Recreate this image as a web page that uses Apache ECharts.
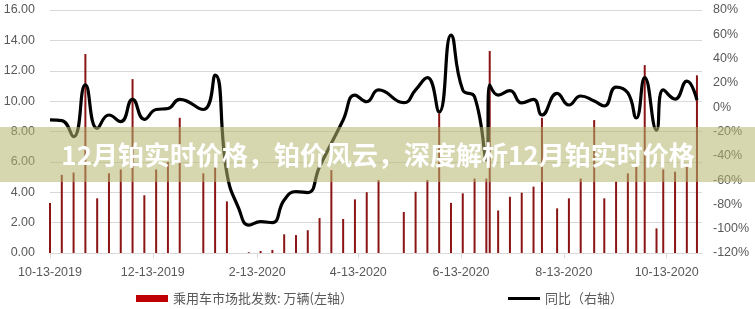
<!DOCTYPE html>
<html>
<head>
<meta charset="utf-8">
<script src="https://cdn.jsdelivr.net/npm/echarts@6/dist/echarts.min.js"></script>
<style>
html,body{margin:0;padding:0;background:#fff;}
#c{width:755px;height:309px;}
</style>
</head>
<body>
<div id="c"></div>
<script>
// ---- data ----
const dates = ['2019-10-13','2019-10-20','2019-10-27','2019-11-03','2019-11-10','2019-11-17','2019-11-24','2019-12-01','2019-12-08','2019-12-15','2019-12-22','2019-12-29','2020-01-12','2020-01-19','2020-01-26','2020-02-02','2020-02-08','2020-02-15','2020-02-22','2020-02-29','2020-03-07','2020-03-14','2020-03-21','2020-03-28','2020-04-04','2020-04-11','2020-04-18','2020-04-25','2020-05-10','2020-05-17','2020-05-24','2020-05-31','2020-06-07','2020-06-14','2020-06-21','2020-06-28','2020-06-30','2020-07-05','2020-07-12','2020-07-19','2020-07-26','2020-07-31','2020-08-09','2020-08-16','2020-08-23','2020-08-31','2020-09-06','2020-09-13','2020-09-20','2020-09-25','2020-09-30','2020-10-07','2020-10-11','2020-10-18','2020-10-25','2020-10-31'];
const sales = [3.3,5.15,5.3,13.1,3.6,5.25,5.5,11.45,3.8,5.5,6.0,8.9,5.25,5.68,3.4,0,0.05,0.13,0.2,1.23,1.18,1.5,2.3,5.46,2.24,3.53,4.0,4.8,2.7,4.03,4.8,9.2,3.3,3.93,4.9,4.9,13.3,2.8,3.7,3.97,4.37,8.9,2.94,3.6,4.9,8.75,3.6,4.7,5.24,5.68,12.37,1.62,5.5,5.35,5.68,11.7];
const yoy = [-10.5,-11,-24.3,18.3,-17.4,-6.4,-11.9,6.5,-10,-1.9,-1.1,6.5,-1.9,26.5,-54.4,-83.2,-97,-94.2,-95,-76.4,-69.5,-70.3,-49,-29.7,-10.5,10,4.5,14.2,3.7,14.2,24.4,-3.9,59.4,14.2,8.6,-43.5,18.3,10,13.6,3.5,6.5,-6.4,11.4,1.8,9.2,5.1,1,16.6,11.7,-8.9,24.4,-18.8,14.2,6.7,21.5,5.9];
const xTickDates = ['2019-10-13','2019-12-13','2020-02-13','2020-04-13','2020-06-13','2020-08-13','2020-10-13'];
const xMin = '2019-10-13';
const xMax = '2020-11-03';
const seriesNames = ['乘用车市场批发数: 万辆(左轴）', '同比（右轴）'];
const bannerText = '12月铂实时价格，铂价风云，深度解析12月铂实时价格';

function ts(s){ const p = s.split('-').map(Number); return new Date(p[0], p[1]-1, p[2]).getTime(); }
function fmtDate(v){ const d = new Date(v); return (d.getMonth()+1) + '-' + d.getDate() + '-' + d.getFullYear(); }

const tickVals = xTickDates.map(ts);
const barData = dates.map((d,i)=>[ts(d), sales[i]]);
const lineData = dates.map((d,i)=>[ts(d), yoy[i]]);

const chart = echarts.init(document.getElementById('c'), null, {renderer:'canvas'});
const numFont = 'Liberation Sans';
const cjkFont = 'Noto Sans CJK SC';
const grey = '#595959';

chart.setOption({
  animation:false,
  backgroundColor:'#fff',
  grid:{left:50, right:53, top:10, bottom:56, containLabel:false},
  legend:[
    {left:131, top:287, itemWidth:32, itemHeight:7, itemGap:0,
     data:[{name:seriesNames[0], icon:'rect', itemStyle:{color:'#c00000'}}],
     textStyle:{color:grey, fontSize:13, fontFamily:cjkFont}},
    {left:503, top:287, itemWidth:32, itemHeight:3, itemGap:0,
     data:[{name:seriesNames[1], icon:'rect', itemStyle:{color:'#000'}}],
     textStyle:{color:grey, fontSize:13, fontFamily:cjkFont}}
  ],
  xAxis:{
    type:'value', min:ts(xMin), max:ts(xMax), scale:true,
    axisLine:{show:true, lineStyle:{color:'#d9d9d9', width:1}},
    axisTick:{show:true, customValues:tickVals, length:5, lineStyle:{color:'#d9d9d9'}},
    axisLabel:{customValues:tickVals, formatter:fmtDate, color:grey, fontSize:12.5, fontFamily:numFont, margin:13, hideOverlap:false},
    splitLine:{show:false}
  },
  yAxis:[
    {type:'value', min:0, max:16, interval:2, position:'left',
     axisLine:{show:false}, axisTick:{show:false},
     axisLabel:{formatter:v=>v.toFixed(2), color:grey, fontSize:12.5, fontFamily:numFont, margin:15},
     splitLine:{show:true, lineStyle:{color:'#d9d9d9', width:1}}},
    {type:'value', min:-120, max:80, interval:20, position:'right',
     axisLine:{show:false}, axisTick:{show:false},
     axisLabel:{formatter:v=>v+'%', color:grey, fontSize:12.5, fontFamily:numFont, margin:11},
     splitLine:{show:false}}
  ],
  series:[
    {name:seriesNames[0], type:'bar', yAxisIndex:0, data:barData, barWidth:2,
     itemStyle:{color:'#8b1515'}, z:2},
    {name:seriesNames[1], type:'line', yAxisIndex:1, data:lineData, smooth:0.5,
     symbol:'none', lineStyle:{color:'#000', width:3.2}, itemStyle:{color:'#000'}, z:3}
  ],
  graphic:[
    {type:'rect', z:100, shape:{x:0, y:127, width:755, height:55},
     style:{fill:'rgba(180,182,110,0.55)'}},
    {type:'text', z:101, x:378, y:155,
     style:{text:bannerText, fill:'#fff', font:'bold 26px "Noto Sans CJK SC"',
            textAlign:'center', textVerticalAlign:'middle',
            shadowColor:'rgba(0,0,0,0.15)', shadowBlur:2}}
  ]
});
</script>
</body>
</html>
